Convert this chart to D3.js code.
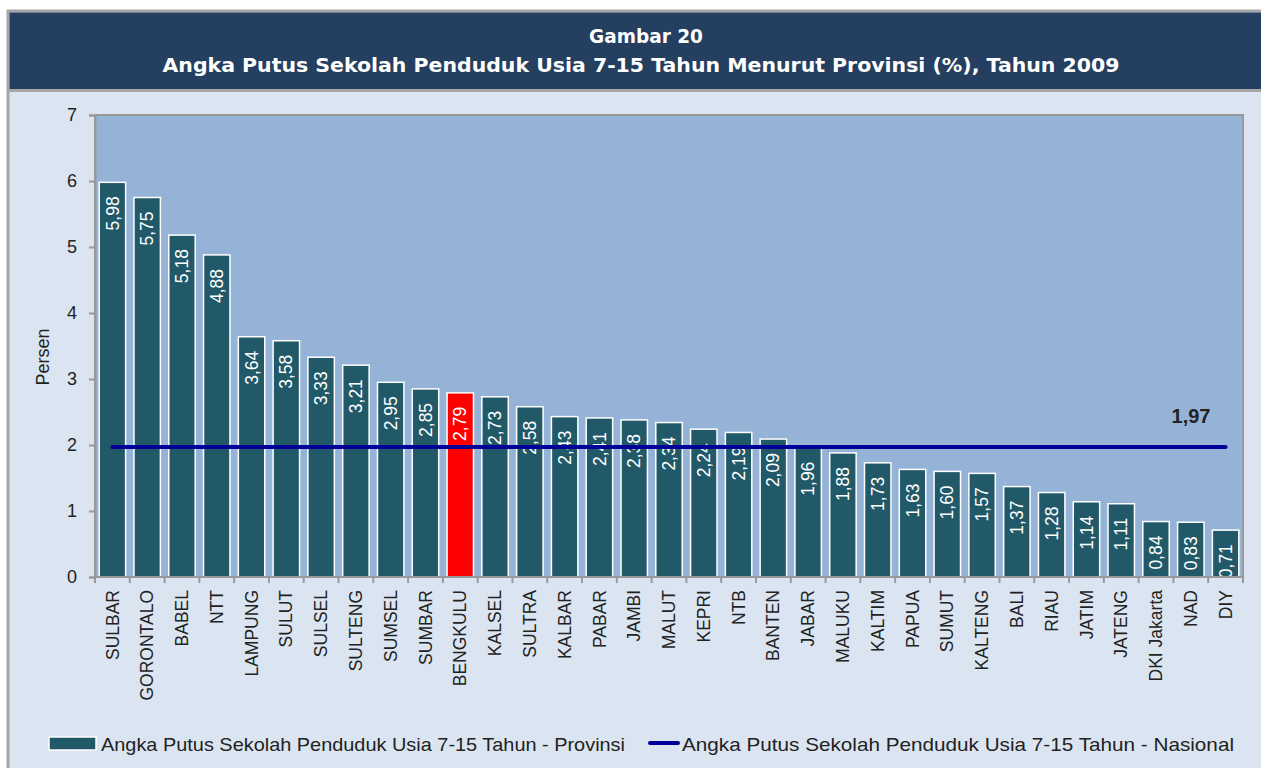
<!DOCTYPE html>
<html>
<head>
<meta charset="utf-8">
<script src="https://cdn.jsdelivr.net/npm/d3@7"></script>
<style>
  body { margin: 0; background: #fff; }
  svg text { font-family: "Liberation Sans", Arial, sans-serif; }
</style>
</head>
<body>
<div id="chart"></div>
<script>
// data
var provinces = ["SULBAR", "GORONTALO", "BABEL", "NTT", "LAMPUNG", "SULUT", "SULSEL", "SULTENG",
  "SUMSEL", "SUMBAR", "BENGKULU", "KALSEL", "SULTRA", "KALBAR", "PABAR", "JAMBI", "MALUT",
  "KEPRI", "NTB", "BANTEN", "JABAR", "MALUKU", "KALTIM", "PAPUA", "SUMUT", "KALTENG", "BALI",
  "RIAU", "JATIM", "JATENG", "DKI Jakarta", "NAD", "DIY"];
var provValues = [5.98, 5.75, 5.18, 4.88, 3.64, 3.58, 3.33, 3.21, 2.95, 2.85, 2.79, 2.73, 2.58,
  2.43, 2.41, 2.38, 2.34, 2.24, 2.19, 2.09, 1.96, 1.88, 1.73, 1.63, 1.60, 1.57, 1.37, 1.28,
  1.14, 1.11, 0.84, 0.83, 0.71];
var nationalValue = 1.97;
var highlight = "BENGKULU";
var yTicks = [0, 1, 2, 3, 4, 5, 6, 7];

var svgWidth = 1261;
var svgHeight = 768;
var plot = { left: 95, top: 115, right: 1243, bottom: 577 };

var fmt = function(v) { return v.toFixed(2).replace(".", ","); };

var svg = d3.select("#chart").append("svg")
  .attr("width", svgWidth)
  .attr("height", svgHeight);

// frame + background
svg.append("rect").attr("x", 8).attr("y", 11).attr("width", svgWidth).attr("height", svgHeight)
  .attr("fill", "#DBE5F1").attr("stroke", "#A6A6A6").attr("stroke-width", 3);
svg.append("rect").attr("x", 9.5).attr("y", 12.5).attr("width", svgWidth).attr("height", 77)
  .attr("fill", "#243F60");
svg.append("line").attr("x1", 9.5).attr("x2", svgWidth).attr("y1", 90.5).attr("y2", 90.5)
  .attr("stroke", "#A6A6A6").attr("stroke-width", 3);

// title
svg.append("text").attr("x", 646).attr("y", 43).attr("text-anchor", "middle")
  .attr("fill", "#fff").attr("font-weight", "bold").attr("font-size", 20)
  .attr("textLength", 114).attr("lengthAdjust", "spacingAndGlyphs")
  .style("font-family", "'DejaVu Sans', Verdana, sans-serif")
  .text("Gambar 20");
svg.append("text").attr("x", 641).attr("y", 72).attr("text-anchor", "middle")
  .attr("fill", "#fff").attr("font-weight", "bold").attr("font-size", 20)
  .attr("textLength", 957).attr("lengthAdjust", "spacingAndGlyphs")
  .style("font-family", "'DejaVu Sans', Verdana, sans-serif")
  .text("Angka Putus Sekolah Penduduk Usia 7-15 Tahun Menurut Provinsi (%), Tahun 2009");

// scales
var x = d3.scaleBand().domain(provinces).range([plot.left, plot.right]).paddingInner(0.24).paddingOuter(0.12);
var y = d3.scaleLinear().domain([0, 7]).range([plot.bottom, plot.top]);

// plot area
svg.append("rect").attr("x", plot.left).attr("y", plot.top)
  .attr("width", plot.right - plot.left).attr("height", plot.bottom - plot.top)
  .attr("fill", "#95B3D7").attr("stroke", "#999").attr("stroke-width", 2);

// y axis
var yAxis = svg.append("g")
  .attr("transform", `translate(${plot.left},0)`)
  .call(d3.axisLeft(y).tickValues(yTicks).tickSize(6).tickPadding(12).tickFormat(d3.format("d")));
yAxis.select(".domain").attr("stroke", "#999").attr("stroke-width", 2);
yAxis.selectAll(".tick line").attr("stroke", "#999").attr("stroke-width", 2);
yAxis.selectAll(".tick text").attr("font-size", 18).attr("fill", "#222")
  .style("font-family", "'Liberation Sans', Arial, sans-serif");

svg.append("text")
  .attr("transform", "translate(49,357) rotate(-90)")
  .attr("text-anchor", "middle").attr("font-size", 18).attr("fill", "#222")
  .text("Persen");

// bars
var data = provinces.map(function(p, i) { return { name: p, value: provValues[i] }; });
var bars = svg.append("g");
bars.selectAll("rect").data(data).enter().append("rect")
  .attr("x", d => x(d.name))
  .attr("y", d => y(d.value))
  .attr("width", x.bandwidth())
  .attr("height", d => y(0) - y(d.value))
  .attr("fill", d => d.name === highlight ? "#FF0000" : "#215968")
  .attr("stroke", "#fff").attr("stroke-width", 1.5);

// x axis with ticks at band edges
var xAxis = svg.append("g");
xAxis.append("line").attr("x1", plot.left).attr("x2", plot.right)
  .attr("y1", plot.bottom).attr("y2", plot.bottom).attr("stroke", "#999").attr("stroke-width", 2);
var edges = d3.range(provinces.length + 1).map(i => plot.left + (plot.right - plot.left) * i / provinces.length);
xAxis.selectAll("line.tk").data(edges).enter().append("line")
  .attr("class", "tk")
  .attr("x1", d => d).attr("x2", d => d)
  .attr("y1", plot.bottom).attr("y2", plot.bottom + 6)
  .attr("stroke", "#999").attr("stroke-width", 2);
xAxis.selectAll("text").data(provinces).enter().append("text")
  .attr("transform", d => `translate(${x(d) + x.bandwidth() / 2},590) rotate(-90)`)
  .attr("text-anchor", "end").attr("dy", "0.35em")
  .attr("font-size", 17.5).attr("fill", "#222")
  .text(d => d);

// national line
var lineGen = d3.line().x(d => x(d) + x.bandwidth() / 2).y(() => y(nationalValue));
svg.append("path")
  .datum([provinces[0], provinces[provinces.length - 1]])
  .attr("d", lineGen)
  .attr("fill", "none").attr("stroke", "#000099").attr("stroke-width", 4)
  .attr("stroke-linecap", "round");

svg.append("text").attr("x", 1191).attr("y", 423).attr("text-anchor", "middle")
  .attr("font-size", 20).attr("font-weight", "bold").attr("fill", "#222")
  .text(fmt(nationalValue));

// value labels
bars.selectAll("text").data(data).enter().append("text")
  .attr("transform", d => `translate(${x(d.name) + x.bandwidth() / 2},${y(d.value) + 14}) rotate(-90)`)
  .attr("text-anchor", "end").attr("dy", "0.35em")
  .attr("font-size", 17.5).attr("fill", "#fff")
  .text(d => fmt(d.value));

// legend
var legend = svg.append("g");
legend.append("rect").attr("x", 49).attr("y", 737).attr("width", 47).attr("height", 13)
  .attr("fill", "#215968").attr("stroke", "#fff").attr("stroke-width", 1.5);
legend.append("text").attr("x", 101).attr("y", 751).attr("font-size", 19).attr("fill", "#222")
  .attr("textLength", 524).attr("lengthAdjust", "spacingAndGlyphs")
  .text("Angka Putus Sekolah Penduduk Usia 7-15 Tahun - Provinsi");
legend.append("line").attr("x1", 650).attr("x2", 678).attr("y1", 743).attr("y2", 743)
  .attr("stroke", "#000099").attr("stroke-width", 4).attr("stroke-linecap", "round");
legend.append("text").attr("x", 682).attr("y", 751).attr("font-size", 19).attr("fill", "#222")
  .attr("textLength", 552).attr("lengthAdjust", "spacingAndGlyphs")
  .text("Angka Putus Sekolah Penduduk Usia 7-15 Tahun - Nasional");
</script>
</body>
</html>
